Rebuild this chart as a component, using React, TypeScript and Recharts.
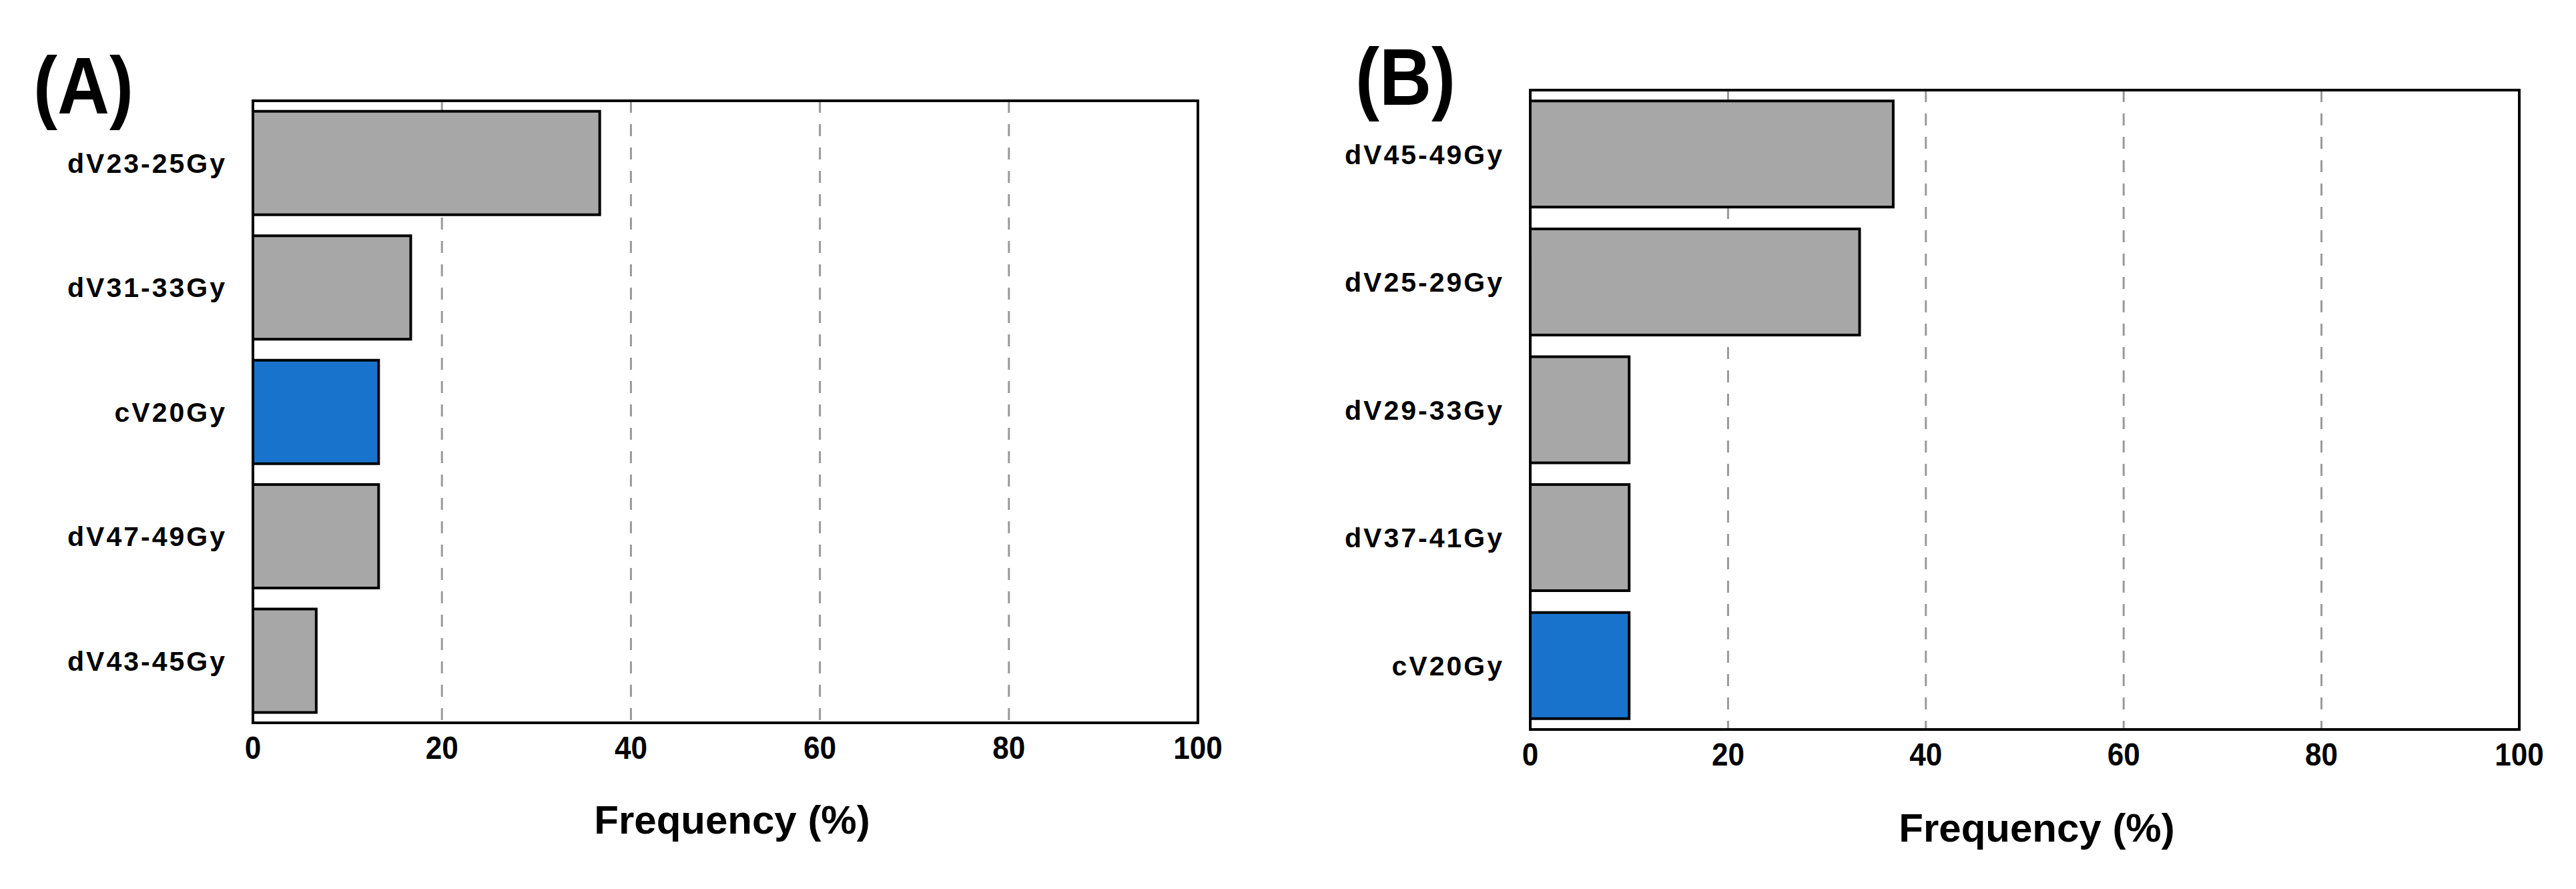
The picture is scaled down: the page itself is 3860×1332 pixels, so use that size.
import React from 'react';
import {
    BarChart,
    Bar,
    Cell,
    XAxis,
    YAxis,
    CartesianGrid,
    ReferenceArea,
    Label
} from 'recharts';

// panel A
const categoriesA = ['dV23-25Gy', 'dV31-33Gy', 'cV20Gy', 'dV47-49Gy', 'dV43-45Gy'];
const frequencyA = [36.7, 16.7, 13.3, 13.3, 6.7];

// panel B
const categoriesB = ['dV45-49Gy', 'dV25-29Gy', 'dV29-33Gy', 'dV37-41Gy', 'cV20Gy'];
const frequencyB = [36.7, 33.3, 10, 10, 10];

const xTicks = [0, 20, 40, 60, 80, 100];
const highlighted = 'cV20Gy';

const FONT = '"Liberation Sans", Arial, Helvetica, sans-serif';
const GRAY = '#a7a7a7';
const BLUE = '#1873cc';

const CategoryTick = ({ x, y, payload }: any) => (
    <text
        x={x}
        y={y}
        dy="0.36em"
        textAnchor="end"
        fontSize={41}
        fontWeight="bold"
        letterSpacing={3}
        fontFamily={FONT}
        fill="#000"
    >
        {payload.value}
    </text>
);

// numbers on the x axis are a little narrower than the font
const ValueTick = ({ x, y, payload }: any) => (
    <g transform={`translate(${x},${y})`}>
        <text
            transform="scale(0.9,1)"
            dy="0.71em"
            textAnchor="middle"
            fontSize={49}
            fontWeight="bold"
            fontFamily={FONT}
            fill="#000"
        >
            {payload.value}
        </text>
    </g>
);

type PanelProps = {
    categories: string[];
    values: number[];
    left: number;
    margin: { top: number; right: number; bottom: number };
    yAxisWidth: number;
    labelOffset: number;
    labelShift: number;
};

const Panel = ({ categories, values, left, margin, yAxisWidth, labelOffset, labelShift }: PanelProps) => {
    const data = categories.map((name, i) => ({ name, value: values[i] }));
    return (
        <div style={{ position: 'absolute', left, top: 0 }}>
            <BarChart
                width={1930}
                height={1332}
                data={data}
                layout="vertical"
                barCategoryGap="8.5%"
                margin={{ top: margin.top, right: margin.right, bottom: margin.bottom, left: 0 }}
            >
                <CartesianGrid
                    horizontal={false}
                    stroke="#999"
                    strokeWidth={3}
                    strokeDasharray="18 17"
                />
                <XAxis
                    type="number"
                    domain={[0, 100]}
                    ticks={xTicks}
                    interval={0}
                    axisLine={false}
                    tickLine={false}
                    tickSize={0}
                    tickMargin={19}
                    height={200}
                    tick={<ValueTick />}
                >
                    <Label
                        value="Frequency (%)"
                        position="insideBottom"
                        offset={labelOffset}
                        dx={labelShift}
                        fill="#000"
                        fontSize={60}
                        fontWeight="bold"
                        fontFamily={FONT}
                    />
                </XAxis>
                <YAxis
                    type="category"
                    dataKey="name"
                    width={yAxisWidth}
                    interval={0}
                    axisLine={false}
                    tickLine={false}
                    tickSize={0}
                    tickMargin={39}
                    tick={<CategoryTick />}
                />
                <Bar dataKey="value" stroke="#000" strokeWidth={4} isAnimationActive={false}>
                    {data.map((d) => (
                        <Cell key={d.name} fill={d.name === highlighted ? BLUE : GRAY} />
                    ))}
                </Bar>
                <ReferenceArea x1={0} x2={100} fill="none" stroke="#000" strokeWidth={4} />
            </BarChart>
        </div>
    );
};

const panelTitle = (text: string, left: number, top: number) => (
    <div
        style={{
            position: 'absolute',
            left,
            top,
            fontFamily: FONT,
            fontWeight: 'bold',
            fontSize: 120,
            lineHeight: '120px',
            color: '#000',
            transform: 'scaleX(0.9)',
            transformOrigin: 'left top'
        }}
    >
        {text}
    </div>
);

export default function App() {
    return (
        <div
            style={{
                position: 'absolute',
                left: 0,
                top: 0,
                width: 3860,
                height: 1332,
                background: '#fff',
                overflow: 'hidden'
            }}
        >
            <Panel
                categories={categoriesA}
                values={frequencyA}
                left={0}
                yAxisWidth={379}
                margin={{ top: 151, right: 135, bottom: 49 }}
                labelOffset={34}
                labelShift={10}
            />
            <Panel
                categories={categoriesB}
                values={frequencyB}
                left={1930}
                yAxisWidth={363}
                margin={{ top: 135, right: 85, bottom: 39 }}
                labelOffset={32}
                labelShift={18}
            />
            {panelTitle('(A)', 50, 68)}
            {panelTitle('(B)', 2031, 55)}
        </div>
    );
}
